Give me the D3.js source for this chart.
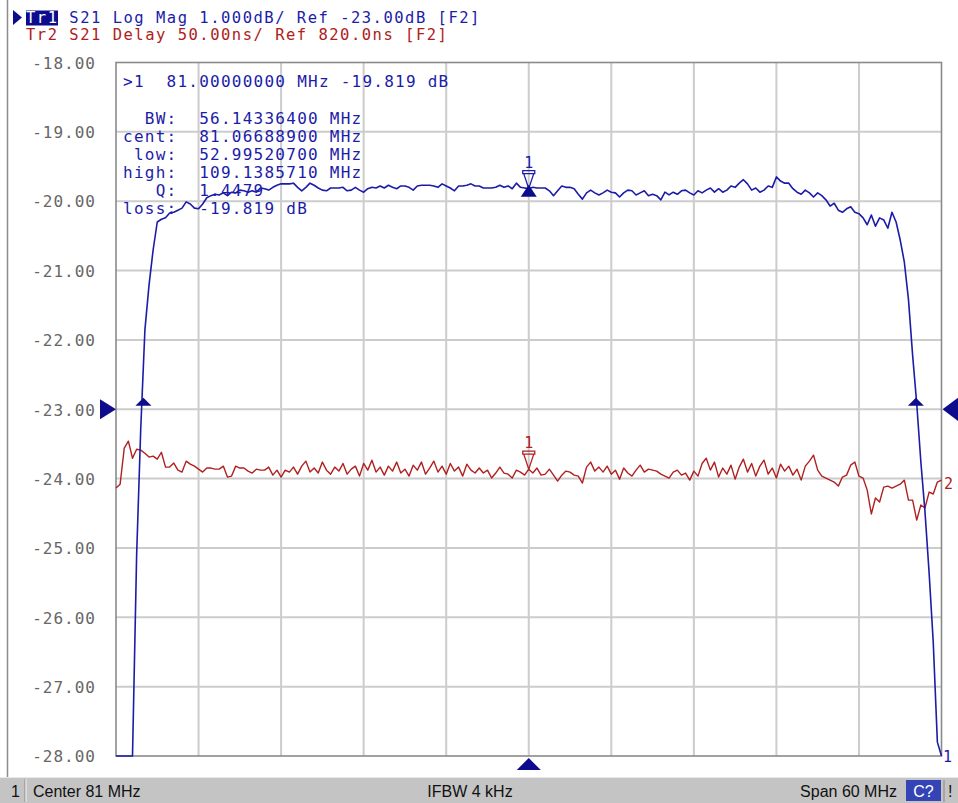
<!DOCTYPE html>
<html><head><meta charset="utf-8">
<script src="https://cdn.jsdelivr.net/npm/d3@7"></script>
<style>body{margin:0;background:#fff}svg{display:block}</style>
</head><body><svg id="c" width="958" height="803"></svg>
<script>
// ---- sweep / axis definitions ----
const startMHz = 51, stopMHz = 111, nPoints = 201;
const yTicks = [-18, -19, -20, -21, -22, -23, -24, -25, -26, -27, -28];
const xDivisions = 10;
const refDb = -23, refNs = 820, nsPerDiv = 50;

// ---- Tr1: S21 Log Mag (dB) ----
const tr1Mag = [
-28.00,-28.00,-28.00,-28.00,-28.00,-25.10,-23.27,-21.86,-21.21,-20.70,
-20.30,-20.26,-20.24,-20.17,-20.16,-20.13,-20.10,-20.01,-20.04,-20.10,
-20.11,-20.04,-19.95,-19.92,-19.90,-19.91,-19.88,-19.92,-19.87,-19.88,
-19.84,-19.85,-19.87,-19.85,-19.87,-19.81,-19.82,-19.84,-19.80,-19.77,
-19.75,-19.75,-19.75,-19.74,-19.80,-19.85,-19.80,-19.74,-19.77,-19.81,
-19.84,-19.85,-19.81,-19.81,-19.81,-19.80,-19.85,-19.84,-19.80,-19.84,
-19.87,-19.82,-19.80,-19.81,-19.78,-19.81,-19.77,-19.80,-19.82,-19.78,
-19.78,-19.80,-19.84,-19.78,-19.77,-19.77,-19.77,-19.78,-19.80,-19.75,
-19.78,-19.81,-19.85,-19.78,-19.78,-19.77,-19.75,-19.78,-19.78,-19.81,
-19.81,-19.81,-19.80,-19.77,-19.80,-19.78,-19.82,-19.74,-19.80,-19.81,
-19.819,-19.80,-19.81,-19.81,-19.81,-19.85,-19.92,-19.85,-19.78,-19.80,
-19.80,-19.82,-19.90,-19.97,-19.88,-19.84,-19.88,-19.91,-19.88,-19.84,
-19.87,-19.88,-19.94,-19.88,-19.84,-19.85,-19.91,-19.88,-19.85,-19.92,
-19.90,-19.92,-19.98,-19.87,-19.91,-19.87,-19.90,-19.85,-19.84,-19.88,
-19.91,-19.85,-19.88,-19.84,-19.81,-19.87,-19.82,-19.87,-19.84,-19.78,
-19.80,-19.74,-19.69,-19.75,-19.84,-19.81,-19.87,-19.84,-19.78,-19.80,
-19.65,-19.71,-19.74,-19.74,-19.82,-19.87,-19.90,-19.84,-19.88,-19.94,
-19.88,-19.92,-19.98,-20.07,-20.03,-20.13,-20.16,-20.11,-20.08,-20.16,
-20.18,-20.24,-20.34,-20.20,-20.36,-20.24,-20.27,-20.39,-20.16,-20.30,
-20.56,-20.88,-21.42,-22.22,-22.92,-23.76,-24.48,-25.36,-26.36,-27.80,
-28.00];

// ---- Tr2: S21 Delay (ns) ----
const tr2Delay = [
763.2,766.0,792.0,797.0,784.7,791.2,790.5,788.3,785.5,786.2,
784.0,789.0,778.3,778.3,781.2,776.1,774.7,782.6,780.4,779.0,
776.8,774.7,777.6,777.6,776.8,776.8,779.0,771.1,771.8,779.0,
777.6,777.6,775.4,774.0,776.8,776.1,776.1,778.3,772.5,776.1,
771.1,776.1,774.7,778.3,773.2,779.0,782.6,774.7,777.6,774.0,
781.9,776.1,773.2,778.3,775.4,780.9,773.2,776.8,779.0,771.8,
780.9,776.1,783.3,774.7,778.3,772.5,779.0,775.4,781.9,774.0,
776.8,771.8,779.7,776.1,781.9,773.2,777.6,782.6,774.7,779.0,
773.2,780.9,775.4,778.3,771.8,780.4,776.1,774.0,777.6,774.0,
776.1,770.4,774.0,778.3,774.0,773.2,770.4,776.1,774.7,772.5,
776.8,774.0,777.6,772.5,773.2,776.8,772.5,768.2,772.5,775.4,
774.7,772.5,771.8,766.8,778.3,781.9,775.4,778.3,774.7,779.0,
773.2,776.1,769.6,777.6,774.0,771.8,776.1,779.7,774.7,776.8,
776.1,775.4,773.2,771.8,770.4,774.7,776.1,772.5,774.0,768.9,
775.4,771.8,780.9,784.7,776.1,781.9,771.1,777.6,773.2,779.7,
769.6,778.3,784.0,774.7,780.9,771.8,779.0,783.3,773.2,777.6,
770.4,780.4,775.4,779.0,772.5,776.8,768.9,779.0,782.6,786.9,
776.1,771.8,770.4,768.9,767.5,764.6,771.1,772.5,779.7,782.0,
771.8,770.4,761.7,744.5,756.0,753.1,763.9,764.6,763.2,764.6,
766.0,768.9,754.5,754.5,740.1,751.0,748.8,760.3,758.9,767.5,
768.9];

// ---- marker / bandwidth search results ----
const markerMHz = 81.0, markerDb = -19.819, markerIndex = 100;
const bwLowMHz = 52.995207, bwHighMHz = 109.138571, bwLevelDb = -22.819;
const markerLines = [
  ">1  81.00000000 MHz -19.819 dB",
  "  BW:  56.14336400 MHz",
  "cent:  81.06688900 MHz",
  " low:  52.99520700 MHz",
  "high:  109.1385710 MHz",
  "   Q:  1.4479",
  "loss:  -19.819 dB"
];
const header1 = ["Tr1", " S21 Log Mag 1.000dB/ Ref -23.00dB [F2]"];
const header2 = "Tr2 S21 Delay 50.00ns/ Ref 820.0ns [F2]";
const statusTexts = ["Center 81 MHz", "IFBW 4 kHz", "Span 60 MHz"];

// ---- drawing ----
const nb = s => s.replace(/ /g, "\u00A0");
const BLUE = "#1c1ca8", NAVY = "#0c0c8c", RED = "#b02020";
const MONO = "'DejaVu Sans Mono', monospace";
const svg = d3.select("#c");
const L = 116, R = 941.5, T = 62.5, B = 756;
const freqs = d3.range(nPoints).map(i => startMHz + i * (stopMHz - startMHz) / (nPoints - 1));
const x = d3.scaleLinear([startMHz, stopMHz], [L, R]);
const y = d3.scaleLinear([-28, -18], [B, T]).clamp(true);
const yNs = d3.scaleLinear([refNs - 5 * nsPerDiv, refNs + 5 * nsPerDiv], [B, T]).clamp(true);

svg.append("rect").attr("width", 958).attr("height", 803).attr("fill", "#fff");
svg.append("line").attr("x1", 7.5).attr("x2", 7.5).attr("y1", 0).attr("y2", 777)
  .attr("stroke", "#8c8c8c").attr("stroke-width", 1.5);

// grid
const xGrid = d3.range(xDivisions + 1).map(i => startMHz + i * (stopMHz - startMHz) / xDivisions);
svg.append("g").selectAll("line").data(xGrid.slice(1, -1)).join("line")
  .attr("x1", d => x(d)).attr("x2", d => x(d)).attr("y1", T).attr("y2", B)
  .attr("stroke", "#cccccc").attr("stroke-width", 2);
svg.append("g").selectAll("line").data(yTicks.slice(1, -1)).join("line")
  .attr("x1", L).attr("x2", R).attr("y1", d => y(d)).attr("y2", d => y(d))
  .attr("stroke", "#cccccc").attr("stroke-width", 2);
svg.append("rect").attr("x", L).attr("y", T).attr("width", R - L).attr("height", B - T)
  .attr("fill", "none").attr("stroke", "#8a8a8a").attr("stroke-width", 1.6);

// y axis labels
const yAxis = svg.append("g").attr("transform", `translate(${L - 20},0)`)
  .call(d3.axisLeft(y).tickValues(yTicks).tickSize(0).tickPadding(0).tickFormat(d => d.toFixed(2)));
yAxis.select(".domain").remove();
yAxis.attr("font-family", null).attr("font-size", null);
yAxis.selectAll("text").attr("font-family", MONO).attr("font-size", 16)
  .attr("letter-spacing", 1.0).attr("fill", "#666").attr("dy", "0.36em");

// marker info text
const mt = svg.append("g").attr("font-family", MONO).attr("font-size", 16)
  .attr("letter-spacing", 1.25).attr("fill", BLUE);
const mBase = [86.5, 123.5, 141.5, 159.5, 177.5, 195.5, 213.5];
mt.selectAll("text").data(markerLines).join("text")
  .attr("x", 123).attr("y", (d, i) => mBase[i]).text(d => nb(d));

// traces
svg.append("path").datum(tr2Delay)
  .attr("d", d3.line().x((d, i) => x(freqs[i])).y(d => yNs(d)))
  .attr("fill", "none").attr("stroke", RED).attr("stroke-width", 1.4).attr("stroke-linejoin", "round");
svg.append("path").datum(tr1Mag)
  .attr("d", d3.line().x((d, i) => x(freqs[i])).y(d => y(d)))
  .attr("fill", "none").attr("stroke", BLUE).attr("stroke-width", 1.6).attr("stroke-linejoin", "round");

// marker symbol helper (outlined inverted triangle with bar, tip at point)
function markerSym(cx, cy, color, label) {
  const g = svg.append("g");
  g.append("path").attr("d",
      `M${cx - 6},${cy - 18} h12 v3 h-12 Z M${cx - 5},${cy - 15} L${cx},${cy} L${cx + 5},${cy - 15}`)
    .attr("fill", "none").attr("stroke", color).attr("stroke-width", 1.3);
  g.append("text").attr("x", cx).attr("y", cy - 21).attr("text-anchor", "middle")
    .attr("font-family", MONO).attr("font-size", 15).attr("fill", color).text(label);
}
const mx = x(markerMHz);
markerSym(mx, y(markerDb), BLUE, "1");
markerSym(mx, yNs(tr2Delay[markerIndex]), RED, "1");
svg.append("path").attr("d", `M${mx},${y(markerDb) - 4} l8,12 h-16 Z`).attr("fill", NAVY);
[bwLowMHz, bwHighMHz].forEach(f => {
  svg.append("path").attr("d", `M${x(f)},${y(bwLevelDb) + 1} l8,8 h-16 Z`).attr("fill", NAVY);
});
svg.append("path").attr("d", `M${mx},${B + 2} l12,12 h-24 Z`).attr("fill", NAVY);
svg.append("path").attr("d", `M${L},${y(refDb)} l-16,-10 v20 Z`).attr("fill", NAVY);
svg.append("path").attr("d", `M${R + 1},${y(refDb)} l16,-12 v24 Z`).attr("fill", NAVY);
svg.append("text").attr("x", 943).attr("y", 762).attr("font-family", MONO).attr("font-size", 15)
  .attr("fill", BLUE).text("1");
svg.append("text").attr("x", 944).attr("y", 489).attr("font-family", MONO).attr("font-size", 15)
  .attr("fill", RED).text("2");

// header
svg.append("path").attr("d", "M13,10 L22,17.5 L13,25 Z").attr("fill", NAVY);
svg.append("rect").attr("x", 26).attr("y", 10.5).attr("width", 32).attr("height", 15).attr("fill", NAVY);
const h1 = svg.append("text").attr("x", 26).attr("y", 23).attr("font-family", MONO).attr("font-size", 15.5)
  .attr("letter-spacing", 1.5);
h1.append("tspan").attr("fill", "#fff").text(header1[0]);
h1.append("tspan").attr("fill", BLUE).text(nb(header1[1]));
svg.append("text").attr("x", 26).attr("y", 39.5).attr("font-family", MONO).attr("font-size", 15.5)
  .attr("letter-spacing", 1.5).attr("fill", RED).text(nb(header2));

// status bar
svg.append("rect").attr("x", 0).attr("y", 777).attr("width", 958).attr("height", 26).attr("fill", "#c4c4c4");
svg.append("line").attr("x1", 0).attr("x2", 958).attr("y1", 777.5).attr("y2", 777.5).attr("stroke", "#e8e8e8");
svg.append("line").attr("x1", 25).attr("x2", 25).attr("y1", 779).attr("y2", 802).attr("stroke", "#888");
svg.append("line").attr("x1", 26).attr("x2", 26).attr("y1", 779).attr("y2", 802).attr("stroke", "#f4f4f4");
const st = svg.append("g").attr("font-family", "'Liberation Sans', Arial, sans-serif").attr("font-size", 16).attr("fill", "#111");
st.append("text").attr("x", 11).attr("y", 797).text("1");
st.append("text").attr("x", 33).attr("y", 797).text(statusTexts[0]);
st.append("text").attr("x", 470).attr("y", 797).attr("text-anchor", "middle").text(statusTexts[1]);
st.append("text").attr("x", 897).attr("y", 797).attr("text-anchor", "end").text(statusTexts[2]);
svg.append("rect").attr("x", 906).attr("y", 780).attr("width", 35).attr("height", 21).attr("fill", "#3444b4");
svg.append("text").attr("x", 923.5).attr("y", 797).attr("text-anchor", "middle")
  .attr("font-family", "'Liberation Sans', Arial, sans-serif").attr("font-size", 16).attr("fill", "#fff").text("C?");
svg.append("line").attr("x1", 944).attr("x2", 944).attr("y1", 780).attr("y2", 802).attr("stroke", "#888");
st.append("text").attr("x", 948).attr("y", 797).text("!");
</script></body></html>
